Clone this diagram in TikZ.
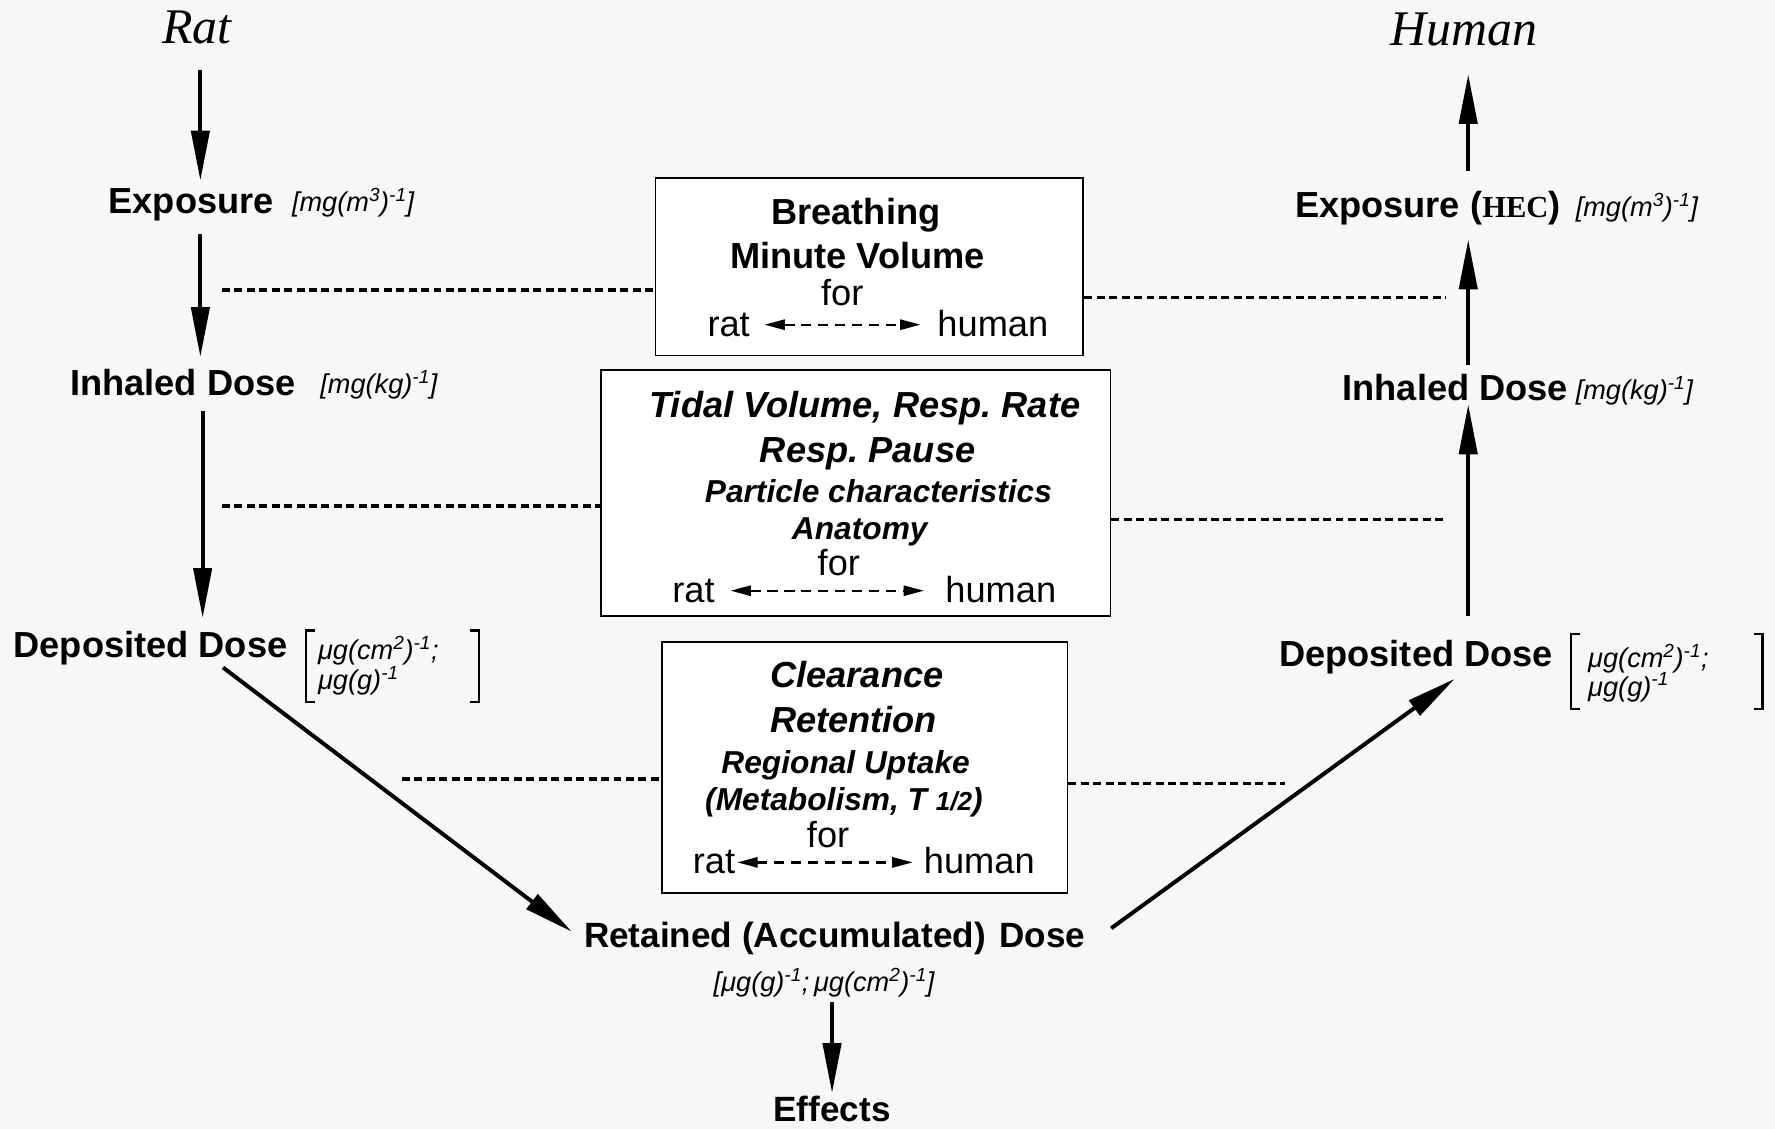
\documentclass[tikz,border=0pt]{standalone}
\usepackage{fontspec}
\setmainfont{Liberation Sans}
\newfontfamily\serf{Liberation Serif}
\usetikzlibrary{arrows.meta,calc}
\newcommand\fsz[1]{\fontsize{#1}{#1}\selectfont}
\newcommand\supr[1]{\textsuperscript{#1}}
\frenchspacing
\begin{document}
\begin{tikzpicture}[x=1pt,y=-1pt,
  lbl/.style={inner sep=0pt,outer sep=0pt,anchor=base west,font=\bfseries\fsz{32}},
  unit/.style={inner sep=0pt,outer sep=0pt,anchor=base west,font=\itshape\fsz{24}},
  title/.style={inner sep=0pt,outer sep=0pt,anchor=base,font=\serf\itshape\fsz{44}},
  bx/.style={draw,line width=1.6pt,fill=white,inner sep=0pt},
  bt/.style={inner sep=0pt,outer sep=0pt,anchor=base,font=\bfseries\fsz{32}},
  bti/.style={bt,font=\bfseries\itshape\fsz{32}},
  bts/.style={bt,font=\bfseries\itshape\fsz{28}},
  reg/.style={inner sep=0pt,outer sep=0pt,anchor=base,font=\fsz{32}},
  arr/.style={line width=3.5pt,-{Triangle[length=44pt,width=16pt]}},
  dsh/.style={line width=3pt,dash pattern=on 7pt off 4pt},
  sarr/.style={line width=2pt,dash pattern=on 9pt off 6pt,{Triangle[length=18pt,width=9pt]}-{Triangle[length=18pt,width=9pt]}},
  brk/.style={line width=2pt}]
\fill[fill={rgb,255:red,247;green,247;blue,247}] (0,0) rectangle (1568,997);
\useasboundingbox (0,0) rectangle (1568,997);

% titles
\node[title] (rat) at (174,38) {Rat};
\node[title] (hum) at (1293,40) {Human};

% left column
\node[lbl] (expL) at (96,188.5) {Exposure};
\node[unit] (expLu) at (258,187) {[mg(m\supr{3})\supr{-1}]};
\node[lbl] (inhL) at (62,349.5) {Inhaled Dose};
\node[unit] (inhLu) at (283,348) {[mg(kg)\supr{-1}]};
\node[lbl] (depL) at (12,581) {Deposited Dose};
\node[unit] (depLu1) at (281,583) {μg(cm\supr{2})\supr{-1};};
\node[unit] (depLu2) at (281,609) {μg(g)\supr{-1}};
\draw[brk] (278,557) -- (270,557) -- (270,620) -- (278,620);
\draw[brk] (415,557) -- (423,557) -- (423,620) -- (415,620);

% right column
\node[lbl] (expR) at (1144,192) {Exposure ({\serf\bfseries\fsz{27}HEC})};
\node[unit] (expRu) at (1392,191) {[mg(m\supr{3})\supr{-1}]};
\node[lbl] (inhR) at (1186,354) {Inhaled Dose};
\node[unit] (inhRu) at (1392,353) {[mg(kg)\supr{-1}]};
\node[lbl] (depR) at (1130,589) {Deposited Dose};
\node[unit] (depRu1) at (1403,590) {μg(cm\supr{2})\supr{-1};};
\node[unit] (depRu2) at (1403,615) {μg(g)\supr{-1}};
\draw[brk] (1396,560) -- (1388,560) -- (1388,626) -- (1396,626);
\draw[brk] (1549,560) -- (1557,560) -- (1557,626) -- (1549,626);

% bottom
\node[lbl,font=\bfseries\fsz{31}] (ret) at (516,837) {Retained (Accumulated)\hspace{12pt}Dose};
\node[unit,anchor=base] (retu) at (728,876) {[μg(g)\supr{-1};\,μg(cm\supr{2})\supr{-1}]};
\node[lbl,anchor=base,font=\bfseries\fsz{31}] (eff) at (735,991) {Effects};

% boxes
\node[bx,minimum width=378pt,minimum height=157pt] (b1) at (768,235.5) {};
\node[bx,minimum width=450pt,minimum height=217pt] (b2) at (756,435.5) {};
\node[bx,minimum width=358pt,minimum height=222pt] (b3) at (764,678) {};

\node[bt] (t11) at (756,198) {Breathing};
\node[bt] (t12) at (757.5,237.5) {Minute Volume};
\node[reg] (t13) at (744,270) {for};
\node[reg,anchor=base west] (r1) at (625,297) {rat};
\node[reg,anchor=base east] (h1) at (926,297) {human};
\draw[sarr,shorten <=13pt,shorten >=15pt] (r1.east) -- (r1.east -| h1.west);

\node[bti] (t21) at (764,368.5) {Tidal Volume, Resp. Rate};
\node[bti] (t22) at (766.5,408.5) {Resp. Pause};
\node[bts] (t23) at (776,444) {Particle characteristics};
\node[bts] (t24) at (759.5,477) {Anatomy};
\node[reg] (t25) at (741,508) {for};
\node[reg,anchor=base west] (r2) at (594,532) {rat};
\node[reg,anchor=base east] (h2) at (933,532) {human};
\draw[sarr,shorten <=14pt,shorten >=19pt] (r2.east) -- (r2.east -| h2.west);

\node[bti] (t31) at (757,607.5) {Clearance};
\node[bti] (t32) at (754,647.5) {Retention};
\node[bts] (t33) at (747,683) {Regional Uptake};
\node[bts] (t34) at (745.5,716) {(Metabolism, T {\fsz{23}1/2})};
\node[reg] (t35) at (731.5,749) {for};
\node[reg,anchor=base west] (r3) at (612,772) {rat};
\node[reg,anchor=base east] (h3) at (914,772) {human};
\draw[sarr,shorten <=2pt,shorten >=10pt] (r3.east) -- (r3.east -| h3.west);

% column coordinates
\coordinate (colL) at (177,0);
\coordinate (colL2) at (179,0);
\coordinate (colR) at (1297,0);

% vertical arrows left (rat side)
\draw[arr,shorten <=23pt,shorten >=7pt] (rat.south -| colL) -- (expL.north -| colL);
\draw[arr,shorten <=12pt,shorten >=11pt] (expL.south -| colL) -- (inhL.north -| colL);
\draw[arr,shorten <=13pt,shorten >=12pt] (inhL.south -| colL2) -- (depL.north -| colL2);

% vertical arrows right (human side)
\draw[arr,shorten <=22pt,shorten >=3pt] (depR.north -| colR) -- (inhR.south -| colR);
\draw[arr,shorten <=8pt,shorten >=13pt] (inhR.north -| colR) -- (expR.south -| colR);
\draw[arr,shorten <=18pt,shorten >=25pt] (expR.north -| colR) -- (hum.south -| colR);

% diagonals
\draw[arr] ($(depL.south west)+(185,2)$) -- ($(ret.west)+(-11,-6)$);
\draw[arr] ($(ret.east)+(23,-9)$) -- ($(depR.south west)+(155,4)$);

% effects
\draw[arr,shorten <=4pt,shorten >=3pt] (retu.south -| eff.north) -- (eff.north);

% dashed connectors
\coordinate (d1a) at (196,256);
\coordinate (d1c) at (1277,263);
\coordinate (d2a) at (196,447);
\coordinate (d2c) at (1277,459);
\coordinate (d3a) at (355,688);
\coordinate (d3c) at (1135,692);
\draw[dsh] (d1a) -- (d1a -| b1.west);
\draw[dsh] (b1.east |- d1c) -- (d1c);
\draw[dsh] (d2a) -- (d2a -| b2.west);
\draw[dsh] (b2.east |- d2c) -- (d2c);
\draw[dsh] (d3a) -- (d3a -| b3.west);
\draw[dsh] (b3.east |- d3c) -- (d3c);
\end{tikzpicture}
\end{document}
